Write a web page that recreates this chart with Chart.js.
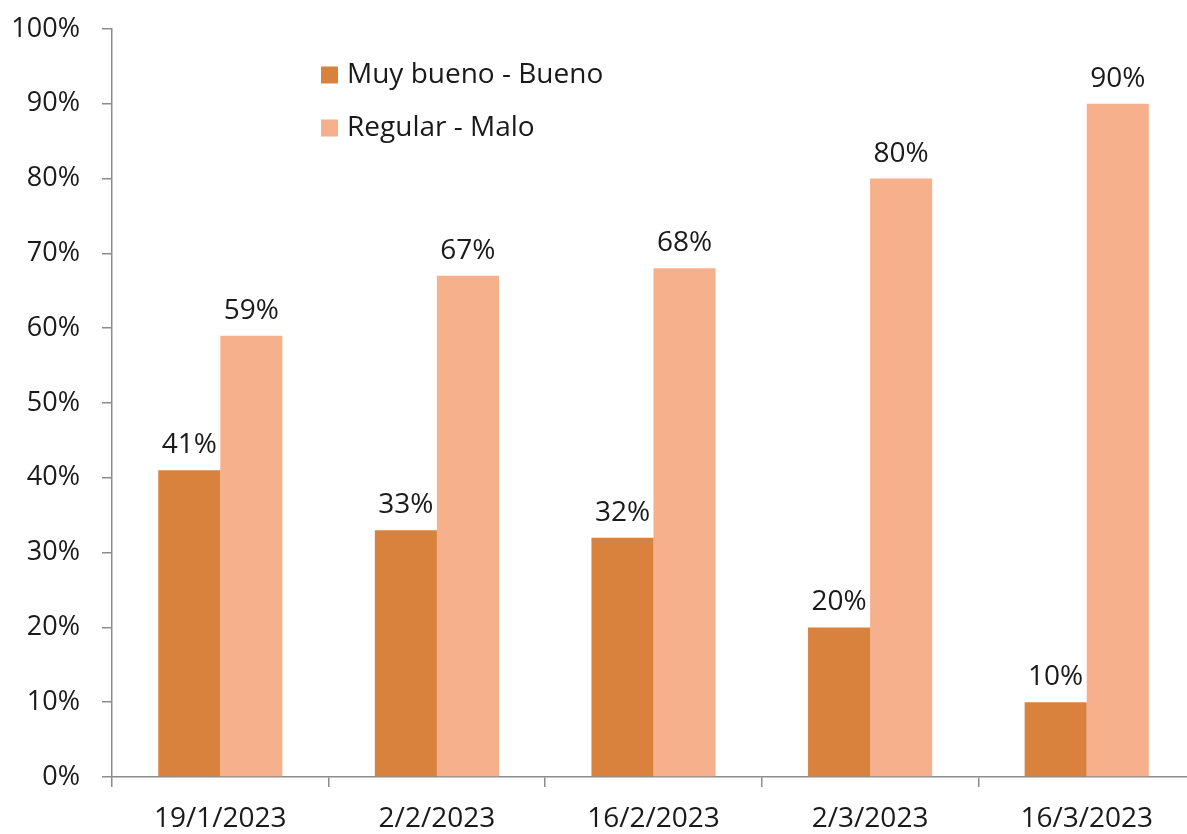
<!DOCTYPE html>
<html>
<head>
<meta charset="utf-8">
<script src="https://cdn.jsdelivr.net/npm/chart.js@4/dist/chart.umd.min.js"></script>
<style>
html,body{margin:0;padding:0;background:#fff;overflow:hidden;}
#wrap{position:relative;width:1195px;height:834px;}
</style>
</head>
<body>
<div id="wrap"><canvas id="c"></canvas></div>
<script>
const categories = ['19/1/2023', '2/2/2023', '16/2/2023', '2/3/2023', '16/3/2023'];
const muyBuenoBueno = [41, 33, 32, 20, 10];
const regularMalo = [59, 67, 68, 80, 90];
const seriesNames = ['Muy bueno - Bueno', 'Regular - Malo'];
const yTicks = [0, 10, 20, 30, 40, 50, 60, 70, 80, 90, 100];

const FONT = '"Open Sans", "Noto Sans", sans-serif';
const TEXT = '#1a1a1a';
const AXIS = '#8c8c8c';
const DARK = '#D8823E';
const LIGHT = '#F6B08B';

const labelPlugin = {
  id: 'barLabels',
  afterDatasetsDraw(chart) {
    const ctx = chart.ctx;
    ctx.save();
    ctx.font = '28px ' + FONT;
    ctx.fillStyle = TEXT;
    ctx.textAlign = 'center';
    ctx.textBaseline = 'alphabetic';
    chart.data.datasets.forEach((ds, di) => {
      chart.getDatasetMeta(di).data.forEach((bar, i) => {
        ctx.fillText(ds.data[i] + '%', bar.x, bar.y - 17);
      });
    });
    ctx.restore();
  }
};

const legendPlugin = {
  id: 'customLegend',
  afterDraw(chart) {
    const ctx = chart.ctx;
    ctx.save();
    ctx.font = '28px ' + FONT;
    ctx.textBaseline = 'middle';
    ctx.textAlign = 'left';
    const rows = [75, 128];
    chart.data.datasets.forEach((ds, i) => {
      const y = rows[i];
      ctx.fillStyle = ds.backgroundColor;
      ctx.fillRect(321, y - 8.5, 17, 17);
      ctx.fillStyle = TEXT;
      ctx.fillText(ds.label, 347, y);
    });
    ctx.restore();
  }
};

new Chart(document.getElementById('c'), {
  type: 'bar',
  data: {
    labels: categories,
    datasets: [
      { label: seriesNames[0], data: muyBuenoBueno, backgroundColor: DARK },
      { label: seriesNames[1], data: regularMalo, backgroundColor: LIGHT }
    ]
  },
  options: {
    responsive: true,
    maintainAspectRatio: false,
    animation: false,
    devicePixelRatio: 1,
    layout: { padding: 0 },
    plugins: { legend: { display: false }, tooltip: { enabled: false } },
    datasets: { bar: { categoryPercentage: 0.573, barPercentage: 1.0 } },
    scales: {
      x: {
        grid: { drawOnChartArea: false, drawTicks: true, tickLength: 10, color: AXIS, lineWidth: 1.5, offset: true },
        border: { display: true, color: AXIS, width: 1.5 },
        ticks: { font: { family: FONT, size: 28 }, color: TEXT, padding: 15, maxRotation: 0 },
        afterFit(s) { s.height = 57; s.paddingLeft = 0; s.paddingRight = 0; }
      },
      y: {
        min: 0, max: 100,
        afterBuildTicks(s) { s.ticks = yTicks.map(v => ({ value: v })); },
        grid: { drawOnChartArea: false, drawTicks: true, tickLength: 10, color: AXIS, lineWidth: 1.5 },
        border: { display: true, color: AXIS, width: 1.5 },
        ticks: { font: { family: FONT, size: 27 }, color: TEXT, padding: 22, callback: v => v + '%' },
        afterFit(s) { s.width = 112; s.paddingTop = 29; s.paddingBottom = 0; }
      }
    }
  },
  plugins: [labelPlugin, legendPlugin]
});
</script>
</body>
</html>
